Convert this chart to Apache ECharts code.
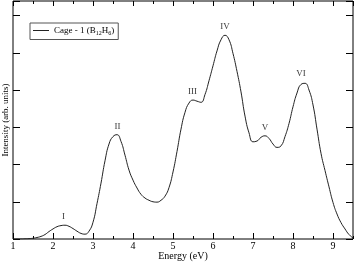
<!DOCTYPE html>
<html><head><meta charset="utf-8">
<script src="https://cdn.jsdelivr.net/npm/echarts@6/dist/echarts.min.js"></script>
<style>html,body{margin:0;padding:0;background:#fff}#c{width:355px;height:262px}</style>
</head><body><div id="c"></div>
<script>
var energy = [1.0,1.1,1.2,1.3,1.4,1.5,1.6,1.7,1.8,1.9,2.0,2.1,2.2,2.3,2.4,2.5,2.6,2.7,2.8,2.9,3.0,3.1,3.2,3.3,3.4,3.5,3.6,3.7,3.8,3.9,4.0,4.1,4.2,4.3,4.4,4.5,4.6,4.7,4.8,4.9,5.0,5.1,5.2,5.3,5.4,5.5,5.6,5.7,5.8,5.9,6.0,6.1,6.2,6.3,6.4,6.5,6.6,6.7,6.8,6.9,7.0,7.1,7.2,7.3,7.4,7.5,7.6,7.7,7.8,7.9,8.0,8.1,8.2,8.3,8.4,8.5,8.6,8.7,8.8,8.9,9.0,9.1,9.2,9.3,9.4,9.5];
var intensity = [0.0,0.0,0.0,0.005,0.01,0.02,0.04,0.07,0.12,0.2,0.27,0.33,0.36,0.37,0.34,0.28,0.21,0.15,0.13,0.21,0.45,0.95,1.5,2.1,2.55,2.75,2.8,2.62,2.25,1.85,1.58,1.37,1.2,1.1,1.04,1.0,0.99,1.04,1.15,1.38,1.8,2.35,2.95,3.4,3.65,3.73,3.7,3.67,3.88,4.25,4.65,5.05,5.35,5.47,5.35,4.98,4.5,3.95,3.3,2.85,2.61,2.63,2.73,2.77,2.7,2.55,2.46,2.5,2.75,3.1,3.55,3.92,4.15,4.18,4.0,3.6,2.95,2.3,1.84,1.4,0.98,0.67,0.44,0.27,0.12,0.03];
var peakNames = ['I','II','III','IV','V','VI'];
var peakEnergy = [2.26,3.61,5.49,6.3,7.3,8.2];
var peakIntensity = [0.37,2.8,3.73,5.47,2.77,4.2];
var xTicks = [1,2,3,4,5,6,7,8,9];
var seriesName = 'Cage - 1 (B12H6)';

var serif = 'Liberation Serif';
var fg = '#000';
var curve = energy.map(function(e,i){return [e,intensity[i]];});
var peaks = peakNames.map(function(n,i){return {value:[peakEnergy[i],peakIntensity[i]],name:n};});

function xAx(pos, interval, len, labels){
  return {type:'value', position:pos, min:1, max:9.5, interval:interval,
    axisLine:{show:false}, splitLine:{show:false},
    axisTick:{show:true, inside:true, length:len, lineStyle:{color:fg,width:1}},
    axisLabel:{show:labels, margin:2, fontFamily:serif, fontSize:10, color:fg,
      showMaxLabel:false,
      formatter:function(v){return xTicks.indexOf(v)>=0 ? String(v) : '';}},
    name: labels ? 'Energy (eV)' : '', nameLocation:'middle', nameGap:12, nameMoveOverlap:false,
    nameTextStyle:{fontFamily:serif, fontSize:10, color:fg}};
}
function yAx(pos, labels){
  return {type:'value', position:pos, min:0, max:6.39, interval:1,
    axisLine:{show:false}, splitLine:{show:false},
    axisTick:{show:true, inside:true, length:7, lineStyle:{color:fg,width:1}},
    axisLabel:{show:false},
    name: labels ? 'Intensity (arb. units)' : '', nameLocation:'middle', nameGap:3, nameMoveOverlap:false,
    nameTextStyle:{fontFamily:serif, fontSize:9, color:fg}};
}

var chart = echarts.init(document.getElementById('c'), null, {renderer:'canvas'});
chart.setOption({
  animation:false,
  backgroundColor:'#fff',
  grid:{left:13, right:2, top:1, bottom:23, containLabel:false, outerBoundsMode:'none',
    show:true, borderColor:fg, borderWidth:1, backgroundColor:'transparent'},
  xAxis:[xAx('bottom',1,6,true), xAx('bottom',0.5,3,false), xAx('top',1,5,false), xAx('top',0.5,3,false)],
  yAxis:[yAx('left',true), yAx('right',false)],
  legend:{show:true, left:30, top:23, orient:'vertical', borderColor:'#555', borderWidth:1,
    padding:[3,4,3,3], itemWidth:16, itemHeight:1, itemGap:0, icon:'rect',
    itemStyle:{color:'#222'},
    data:[seriesName],
    formatter:function(){return 'Cage - 1 (B{s|12}H{s|6})';},
    textStyle:{fontFamily:serif, fontSize:9, color:fg,
      rich:{s:{fontFamily:serif, fontSize:6, color:fg, padding:[6,0,0,0]}}}},
  series:[
    {name:seriesName, type:'line', data:curve, smooth:0.5, symbol:'none', showSymbol:false,
     lineStyle:{color:'#222', width:1}, itemStyle:{color:'#222'}, xAxisIndex:0, yAxisIndex:0},
    {name:'peaks', type:'scatter', data:peaks, symbolSize:0, silent:true,
     label:{show:true, position:'top', distance:4, formatter:'{b}', fontFamily:serif, fontSize:9, color:fg},
     xAxisIndex:0, yAxisIndex:0}
  ]
});
</script></body></html>
